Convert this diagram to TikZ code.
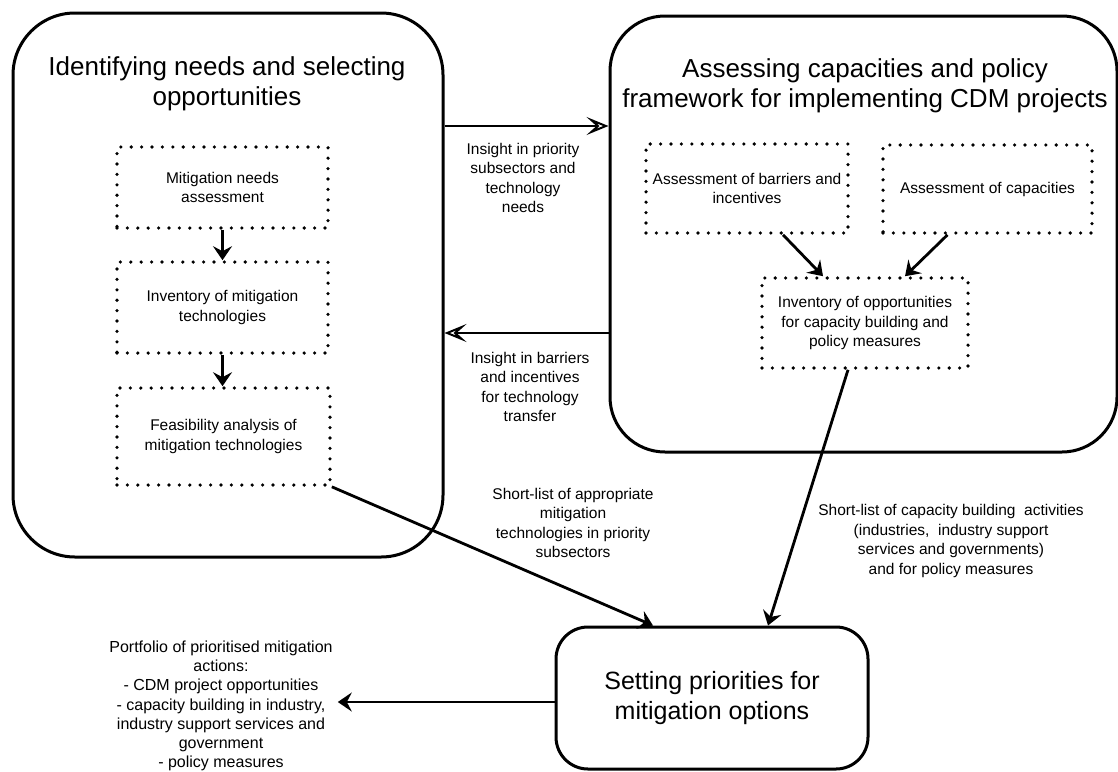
\documentclass[tikz,border=0pt]{standalone}
\usepackage{fontspec}
\setmainfont{Liberation Sans}
\usetikzlibrary{arrows.meta,calc}
\begin{document}
\begin{tikzpicture}[x=1pt,y=-1pt,
  bigbox/.style={draw, line width=3pt, rounded corners=#1},
  dotbox/.style={draw, line width=3.6pt, line cap=round, dash pattern=on 0pt off 10.4pt, inner sep=0pt, align=center, font=\fontsize{15.5}{19.5}\selectfont},
  ttl/.style={align=center, font=\fontsize{26}{30}\selectfont},
  lab/.style={align=center, font=\fontsize{15.5}{19.5}\selectfont, inner sep=2pt},
  conn/.style={line width=2.8pt, -{Stealth[length=14pt,width=19pt,inset=5pt]}},
  wide/.style={line width=2.8pt, -{Stealth[open,length=22pt,width=18pt,inset=10pt,line width=2pt]}},
]
\useasboundingbox (0,0) rectangle (1118,771);
% containers
\node[bigbox=62pt, minimum width=430pt, minimum height=544pt] (left) at (228,285) {};
\node[bigbox=55pt, minimum width=507pt, minimum height=436pt] (right) at (863.5,234) {};
\node[bigbox=32pt, minimum width=312pt, minimum height=142pt, align=center, font=\fontsize{25}{30}\selectfont] (set) at (712,698) {Setting priorities for\\mitigation options};
% titles
\node[ttl] (lt) at (227,84) {Identifying needs and selecting\\opportunities};
\node[ttl] (rt) at (865,86) {Assessing capacities and policy\\framework for implementing CDM projects};
% dotted boxes
\node[dotbox, minimum width=211pt, minimum height=81pt] (A) at (222.5,187.5) {Mitigation needs\\assessment};
\node[dotbox, minimum width=211pt, minimum height=91pt] (B) at (222.5,307.5) {Inventory of mitigation\\technologies};
\node[dotbox, minimum width=213pt, minimum height=97pt] (C) at (223.5,436.5) {Feasibility analysis of\\mitigation technologies};
\node[dotbox, minimum width=202pt, minimum height=89pt] (D) at (747,188.5) {Assessment of barriers and\\incentives};
\node[dotbox, minimum width=209pt, minimum height=88pt] (E) at (987.5,189) {Assessment of capacities};
\node[dotbox, minimum width=206pt, minimum height=90pt] (F) at (865,323) {Inventory of opportunities\\for capacity building and\\policy measures};
% labels
\node[lab] (l1) at (523,178) {Insight in priority\\subsectors and\\technology\\needs};
\node[lab] (l2) at (530,387) {Insight in barriers\\and incentives\\for technology\\transfer};
\node[lab] (l3) at (573,523) {Short-list of appropriate\\mitigation\\technologies in priority\\subsectors};
\node[lab] (l4) at (951,541) {Short-list of capacity building\ \ activities\\(industries,\ \ industry support\\services and governments)\\and for policy measures};
\node[lab, inner sep=5pt, font=\fontsize{16}{19.2}\selectfont] (port) at (221,706) {Portfolio of prioritised mitigation\\actions:\\- CDM project opportunities\\- capacity building in industry,\\industry support services and\\government\\- policy measures};
% helper rows
\coordinate (h1) at (0,126);
\coordinate (h2) at (0,333);
\coordinate (h3) at (0,702);
% connectors
\draw[wide] (left.east |- h1) -- (right.west |- h1);
\draw[wide] (right.west |- h2) -- (left.east |- h2);
\draw[conn] (set.west |- h3) -- (port.east |- h3);
\draw[conn] (A.south) -- (A.south |- B.north);
\draw[conn] (B.south) -- (B.south |- C.north);
\draw[conn] ([xshift=36pt]D.south) -- ([xshift=-42pt]F.north);
\draw[conn] ([xshift=-40pt]E.south) -- ([xshift=40pt]F.north);
\draw[conn] ([xshift=-17pt]F.south) -- ([xshift=56pt]set.north);
\draw[conn] (C.south east) -- ([xshift=-59pt]set.north);
\end{tikzpicture}
\end{document}
